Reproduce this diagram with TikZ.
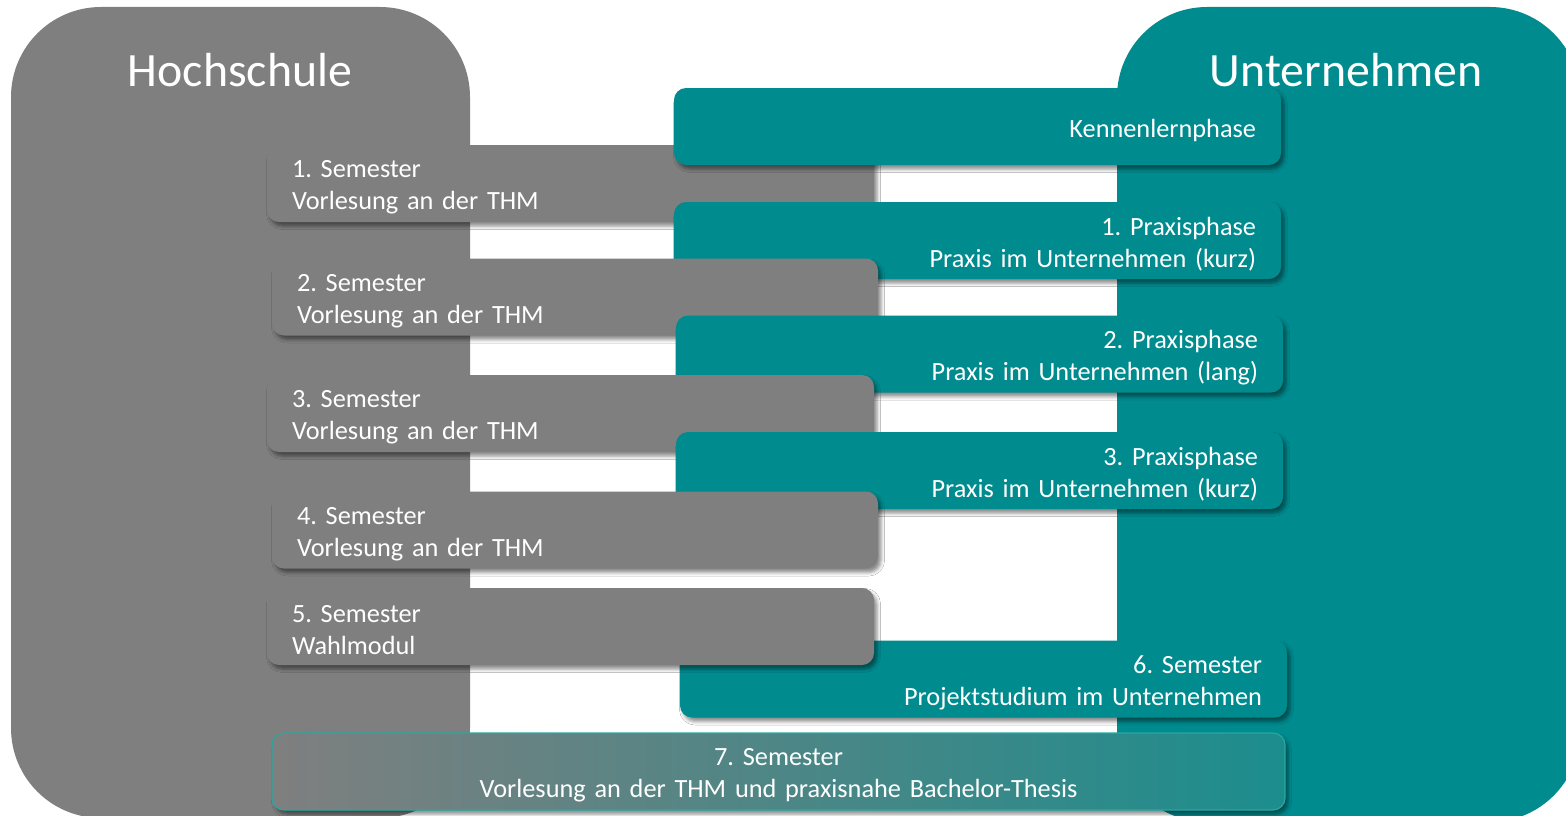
\documentclass[tikz,border=0pt]{standalone}
\usepackage{fontspec}
\setmainfont{Carlito}
\frenchspacing
\usetikzlibrary{shadows.blur}
\definecolor{hsgrey}{RGB}{127,127,127}
\definecolor{teal1}{RGB}{0,139,143}
\definecolor{tealright}{RGB}{28,141,141}
\definecolor{tealedge}{RGB}{40,168,160}
\tikzset{
  bigshape/.style={rounded corners=90pt},
  title/.style={text=white, font=\fontsize{47.8}{56}\selectfont, inner sep=0pt},
  boxbase/.style={rounded corners=12pt, minimum height=77pt, inner sep=0pt,
    blur shadow={shadow xshift=3pt, shadow yshift=-4pt, shadow blur radius=3.5pt, shadow opacity=45}},
  semleft/.style={boxbase, fill=hsgrey, minimum width=607pt},
  praxright/.style={boxbase, fill=teal1, minimum width=607pt},
  finalbox/.style={boxbase, left color=hsgrey, right color=tealright, draw=tealedge, line width=1.2pt,
    minimum width=1013pt},
  boxtext/.style={text=white, font=\fontsize{26.3}{32}\selectfont, inner sep=0pt, yshift=-4pt},
  lefttext/.style={boxtext, text width=557pt, align=left},
  righttext/.style={boxtext, text width=557pt, align=right},
  centertext/.style={boxtext, text width=963pt, align=center}
}
\begin{document}
\begin{tikzpicture}[x=1pt, y=-1pt]
\useasboundingbox (0,0) rectangle (1566,816);
\clip (0,0) rectangle (1566,816);
\fill[white] (0,0) rectangle (1566,816);
% big background shapes
\fill[hsgrey, bigshape] (11,7) rectangle (470,818);
\fill[teal1, bigshape] (1117,7) rectangle (1580,822);
\node[title] (hs) at (240,70) {Hochschule};
\node[title] (un) at (1346,70) {Unternehmen};
% boxes
\node[semleft] (s1) at (570.5,183.5) {};
\node[lefttext] (s1t) at (s1.center) {1. Semester\\Vorlesung an der THM};
\node[praxright] (k) at (977.5,126.5) {};
\node[righttext] (kt) at (k.center) {Kennenlernphase};
\node[praxright] (p1) at (977.5,240.5) {};
\node[righttext] (p1t) at (p1.center) {1. Praxisphase\\Praxis im Unternehmen (kurz)};
\node[semleft, minimum width=606pt] (s2) at (575,297) {};
\node[lefttext, text width=556pt] (s2t) at (s2.center) {2. Semester\\Vorlesung an der THM};
\node[praxright] (p2) at (979.5,354) {};
\node[righttext] (p2t) at (p2.center) {2. Praxisphase\\Praxis im Unternehmen (lang)};
\node[semleft] (s3) at (570.5,413.5) {};
\node[lefttext] (s3t) at (s3.center) {3. Semester\\Vorlesung an der THM};
\node[praxright] (p3) at (979.5,470.5) {};
\node[righttext] (p3t) at (p3.center) {3. Praxisphase\\Praxis im Unternehmen (kurz)};
\node[semleft, minimum width=606pt] (s4) at (575,530) {};
\node[lefttext, text width=556pt] (s4t) at (s4.center) {4. Semester\\Vorlesung an der THM};
\node[praxright] (s6) at (983.5,679) {};
\node[righttext] (s6t) at (s6.center) {6. Semester\\Projektstudium im Unternehmen};
\node[semleft] (s5) at (570.5,626.5) {};
\node[lefttext] (s5t) at (s5.center) {5. Semester\\Wahlmodul};
\node[finalbox] (s7) at (778.5,771.5) {};
\node[centertext] (s7t) at (s7.center) {7. Semester\\Vorlesung an der THM und praxisnahe Bachelor-Thesis};
\end{tikzpicture}
\end{document}
